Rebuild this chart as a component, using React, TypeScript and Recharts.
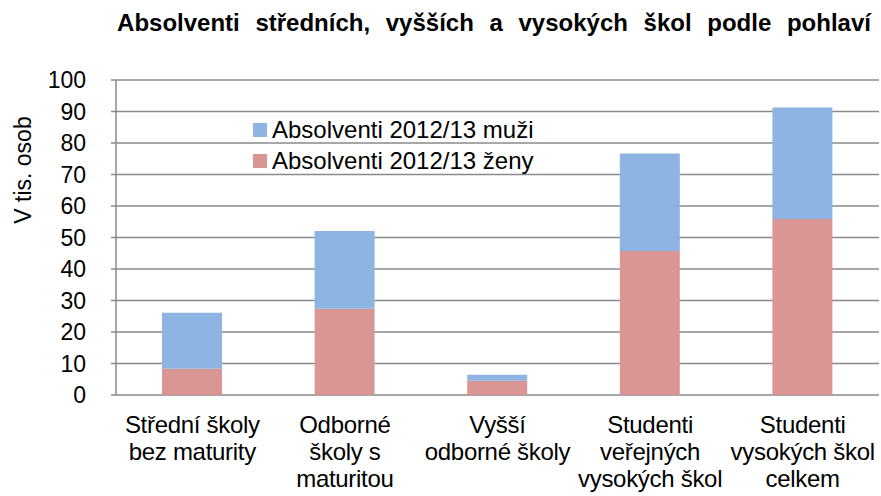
import { BarChart, Bar, XAxis, YAxis, CartesianGrid, Legend, Label } from 'recharts';

// Absolventi 2012/13, v tisících osob
const categories = [
  'Střední školy\nbez maturity',
  'Odborné\nškoly s\nmaturitou',
  'Vyšší\nodborné školy',
  'Studenti\nveřejných\nvysokých škol',
  'Studenti\nvysokých škol\ncelkem',
];
const zeny = [8.3, 27.4, 4.5, 45.7, 55.9];
const muzi = [17.8, 24.7, 1.9, 31.0, 35.4];
const yTicks = [0, 10, 20, 30, 40, 50, 60, 70, 80, 90, 100];
const boundaryTicks = [0, 1, 2, 3, 4, 5];

const data = categories.map((name, i) => ({
  name,
  zeny: zeny[i],
  muzi: muzi[i],
  pos: i + 0.5,
}));

const FONT = '"Liberation Sans", Arial, sans-serif';
const GRID = '#8a8a8a';

const CategoryTick = ({ x, y, payload }: any) => {
  const lines = String(payload.value).split('\n');
  return (
    <text x={x} y={y} textAnchor="middle" fill="#000" fontSize={24} fontFamily={FONT} letterSpacing={-0.3}>
      {lines.map((l, i) => (
        <tspan key={i} x={x} dy={i === 0 ? 38 : 27}>
          {l}
        </tspan>
      ))}
    </text>
  );
};

const YTitle = ({ viewBox }: any) => {
  const cx = viewBox.x + 31;
  const cy = viewBox.y + 90;
  return (
    <text
      x={cx}
      y={cy}
      textAnchor="middle"
      fontSize={23}
      fontFamily={FONT}
      fill="#000"
      transform={`rotate(-90, ${cx}, ${cy})`}
    >
      V tis. osob
    </text>
  );
};

const renderLegend = ({ payload }: any) => (
  <div style={{ fontFamily: FONT, fontSize: 24, color: '#000' }}>
    {(payload || []).map((e: any) => (
      <div key={e.value} style={{ display: 'flex', alignItems: 'center', height: 31 }}>
        <span style={{ width: 14, height: 14, background: e.color, marginRight: 5 }} />
        <span>{e.value}</span>
      </div>
    ))}
  </div>
);

const App = () => {
  return (
    <div style={{ position: 'absolute', left: 0, top: 0, width: 881, height: 496, background: '#fff' }}>
      <div
        style={{
          position: 'absolute',
          left: 0,
          top: 9,
          width: 988,
          textAlign: 'center',
          fontFamily: FONT,
          fontWeight: 'bold',
          fontSize: 24,
          wordSpacing: 9,
          color: '#000',
          whiteSpace: 'nowrap',
        }}
      >
        Absolventi středních, vyšších a vysokých škol podle pohlaví
      </div>
      <BarChart
        width={881}
        height={496}
        data={data}
        margin={{ top: 80, right: 2, left: 0, bottom: 0 }}
        barSize={60}
      >
        <CartesianGrid
          vertical={false}
          stroke={GRID}
          strokeWidth={1.5}
          xAxisId="cat"
          syncWithTicks
        />
        <XAxis
          xAxisId="bounds"
          dataKey="pos"
          type="number"
          domain={[0, 5]}
          ticks={boundaryTicks}
          allowDataOverflow
          height={0}
          stroke={GRID}
          strokeWidth={1.5}
          tickSize={8}
          tick={() => <g />}
        />
        <XAxis
          xAxisId="cat"
          dataKey="name"
          height={101}
          axisLine={false}
          tickLine={false}
          tickSize={0}
          tickMargin={0}
          interval={0}
          tick={<CategoryTick />}
        />
        <YAxis
          width={116}
          domain={[0, 100]}
          ticks={yTicks}
          interval={0}
          stroke={GRID}
          strokeWidth={1.5}
          tickSize={5}
          tickMargin={25}
          tick={{ fill: '#000', fontSize: 23, fontFamily: FONT }}
        >
          <Label content={<YTitle />} />
        </YAxis>
        <Legend
          layout="vertical"
          align="center"
          verticalAlign="middle"
          content={renderLegend}
          wrapperStyle={{ left: 253, top: 114, width: 'auto' }}
        />
        <Bar
          xAxisId="cat"
          dataKey="zeny"
          name="Absolventi 2012/13 ženy"
          stackId="a"
          fill="#D99694"
          isAnimationActive={false}
        />
        <Bar
          xAxisId="cat"
          dataKey="muzi"
          name="Absolventi 2012/13 muži"
          stackId="a"
          fill="#8EB4E3"
          isAnimationActive={false}
        />
      </BarChart>
    </div>
  );
};

export default App;
